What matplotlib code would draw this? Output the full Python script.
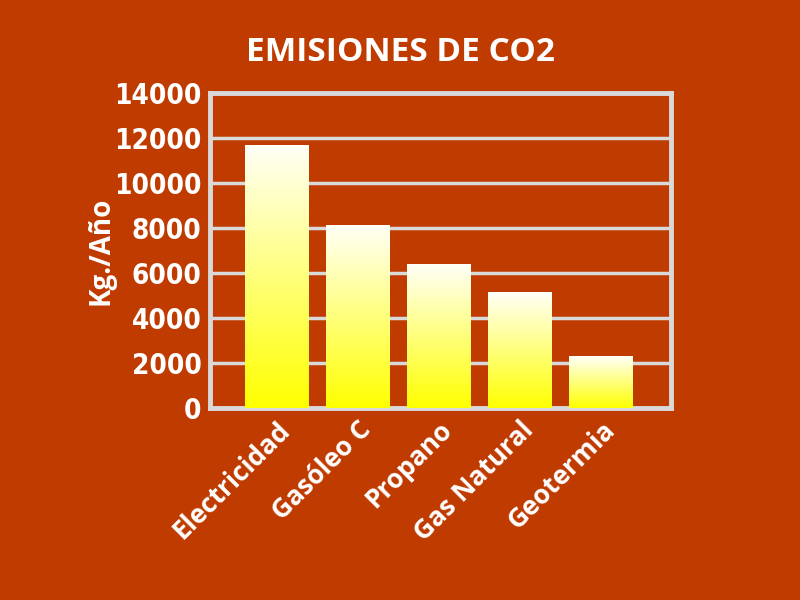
import numpy as np
import matplotlib.pyplot as plt
from matplotlib.colors import LinearSegmentedColormap

categorias = ['Electricidad', 'Gasóleo C', 'Propano', 'Gas Natural', 'Geotermia']
emisiones = [11700, 8150, 6400, 5150, 2300]
ticks_y = [0, 2000, 4000, 6000, 8000, 10000, 12000, 14000]

fondo = '#BF3B00'
gris = '#D9D9D9'

fig = plt.figure(figsize=(8, 6), dpi=100, facecolor=fondo)
ax = fig.add_axes([0.2625, 0.32, 0.576, 0.525], facecolor=fondo)

x = np.arange(len(categorias))
barras = ax.bar(x, emisiones, width=0.78, color='none', edgecolor='none', zorder=3)

# degradado amarillo -> blanco dentro de cada barra
grad = np.linspace(0, 1, 256).reshape(-1, 1)
cmap = LinearSegmentedColormap.from_list('yb', ['#FFFF00', '#FFFFF8'])
for b in barras:
    x0, w, h = b.get_x(), b.get_width(), b.get_height()
    im = ax.imshow(grad, cmap=cmap, origin='lower', aspect='auto',
                   extent=(x0, x0 + w, 0, h), zorder=3)
    im.set_clip_path(b)

ax.set_xlim(-0.82, 4.86)
ax.set_ylim(0, 14000)
ax.set_yticks(ticks_y)
ax.set_yticklabels([str(t) for t in ticks_y], family='DejaVu Sans', fontstretch='condensed',
                   fontsize=20, fontweight='bold', color='white')
ax.set_xticks(x)
ax.set_xticklabels(categorias, rotation=45, ha='right', rotation_mode='anchor',
                   family=['Open Sans', 'DejaVu Sans'], fontsize=19, fontweight='bold', color='white')
ax.tick_params(axis='both', length=0)
ax.tick_params(axis='x', pad=6)
ax.tick_params(axis='y', pad=6)

ax.yaxis.grid(True, color=gris, linewidth=2.5, zorder=1)
ax.set_axisbelow(True)
for s in ax.spines.values():
    s.set_color(gris)
    s.set_linewidth(3.5)

ax.set_ylabel('Kg./Año', family=['Open Sans', 'DejaVu Sans'], fontsize=20,
              fontweight='bold', color='white')
ax.yaxis.set_label_coords(-0.205, 0.5)

fig.text(0.5, 0.913, 'EMISIONES DE CO2', ha='center', va='center',
         family=['Open Sans', 'DejaVu Sans'], fontsize=24, fontweight='bold', color='white')

fig.savefig('out.png', dpi=100, facecolor=fondo)
